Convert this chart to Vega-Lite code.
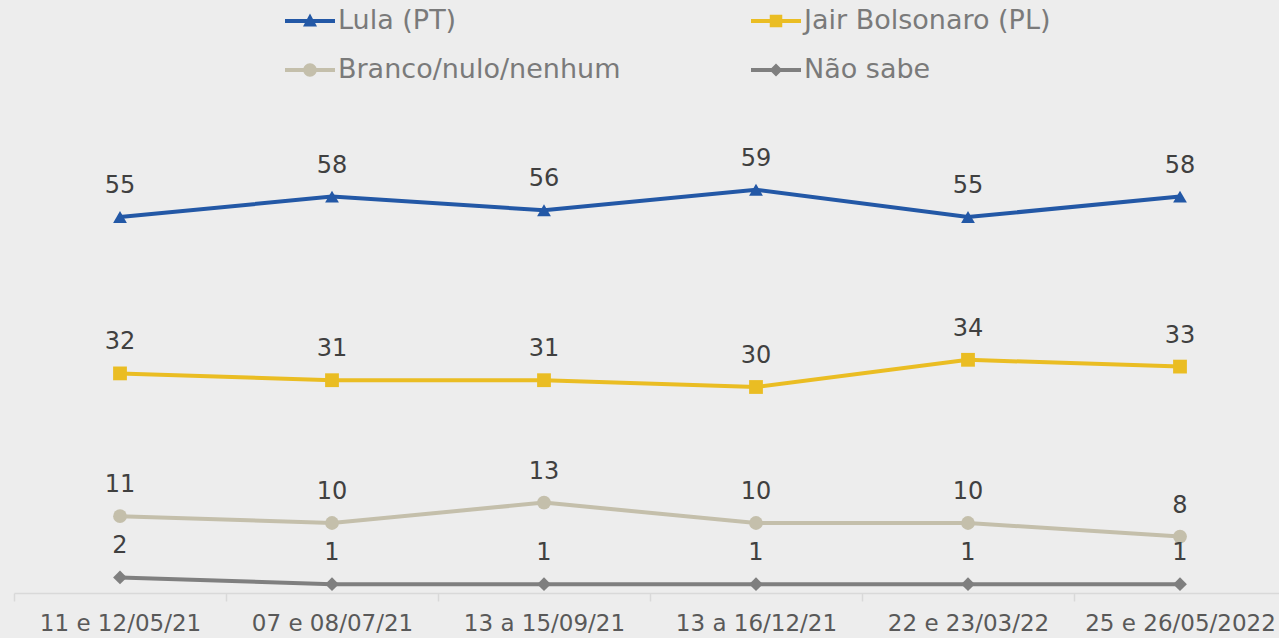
{
  "$schema": "https://vega.github.io/schema/vega-lite/v6.json",
  "width": 1265,
  "height": 408,
  "autosize": {"type": "none"},
  "padding": {"left": 14, "top": 183, "right": 0, "bottom": 47},
  "background": "#ededed",
  "config": {"view": {"stroke": null}, "font": "DejaVu Sans"},
  "data": {"values": [
    {"date": "11 e 12/05/21", "series": "Lula (PT)", "value": 55},
    {"date": "07 e 08/07/21", "series": "Lula (PT)", "value": 58},
    {"date": "13 a 15/09/21", "series": "Lula (PT)", "value": 56},
    {"date": "13 a 16/12/21", "series": "Lula (PT)", "value": 59},
    {"date": "22 e 23/03/22", "series": "Lula (PT)", "value": 55},
    {"date": "25 e 26/05/2022", "series": "Lula (PT)", "value": 58},
    {"date": "11 e 12/05/21", "series": "Jair Bolsonaro (PL)", "value": 32},
    {"date": "07 e 08/07/21", "series": "Jair Bolsonaro (PL)", "value": 31},
    {"date": "13 a 15/09/21", "series": "Jair Bolsonaro (PL)", "value": 31},
    {"date": "13 a 16/12/21", "series": "Jair Bolsonaro (PL)", "value": 30},
    {"date": "22 e 23/03/22", "series": "Jair Bolsonaro (PL)", "value": 34},
    {"date": "25 e 26/05/2022", "series": "Jair Bolsonaro (PL)", "value": 33},
    {"date": "11 e 12/05/21", "series": "Branco/nulo/nenhum", "value": 11},
    {"date": "07 e 08/07/21", "series": "Branco/nulo/nenhum", "value": 10},
    {"date": "13 a 15/09/21", "series": "Branco/nulo/nenhum", "value": 13},
    {"date": "13 a 16/12/21", "series": "Branco/nulo/nenhum", "value": 10},
    {"date": "22 e 23/03/22", "series": "Branco/nulo/nenhum", "value": 10},
    {"date": "25 e 26/05/2022", "series": "Branco/nulo/nenhum", "value": 8},
    {"date": "11 e 12/05/21", "series": "Não sabe", "value": 2},
    {"date": "07 e 08/07/21", "series": "Não sabe", "value": 1},
    {"date": "13 a 15/09/21", "series": "Não sabe", "value": 1},
    {"date": "13 a 16/12/21", "series": "Não sabe", "value": 1},
    {"date": "22 e 23/03/22", "series": "Não sabe", "value": 1},
    {"date": "25 e 26/05/2022", "series": "Não sabe", "value": 1}
  ]},
  "encoding": {
    "x": {
      "field": "date", "type": "nominal",
      "scale": {"type": "band", "domain": ["11 e 12/05/21", "07 e 08/07/21", "13 a 15/09/21", "13 a 16/12/21", "22 e 23/03/22", "25 e 26/05/2022"], "range": [0, 1272], "paddingInner": 0, "paddingOuter": 0},
      "axis": {"title": null, "offset": 2, "labelFontSize": 23, "labelColor": "#595959", "labelFont": "DejaVu Sans", "domainColor": "#d9d9d9", "domainWidth": 1.5, "tickColor": "#d9d9d9", "tickSize": 8, "tickWidth": 1.5, "tickBand": "extent", "labelPadding": 11, "labelAngle": 0, "grid": false, "labelLimit": 300}
    },
    "y": {"field": "value", "type": "quantitative", "scale": {"domain": [0, 60]}, "axis": null}
  },
  "layer": [
    {
      "transform": [{"filter": "datum.value < 0"}],
      "mark": {"type": "point", "filled": true, "opacity": 1, "size": 2500},
      "encoding": {
        "color": {"field": "series", "type": "nominal",
          "scale": {"domain": ["Lula (PT)", "Jair Bolsonaro (PL)", "Branco/nulo/nenhum", "Não sabe"], "range": ["#2358a6", "#eabd23", "#c4bfab", "#7f7f7f"]},
          "legend": {"disable": false, "title": null, "orient": "none", "direction": "horizontal", "legendX": 271, "legendY": -187, "columns": 2, "columnPadding": 130, "rowPadding": 11, "symbolSize": 2500, "symbolOpacity": 1, "symbolStrokeWidth": 0, "labelFontSize": 27, "labelColor": "#7a7a7a", "labelFont": "DejaVu Sans", "labelOffset": 3, "padding": 0, "labelLimit": 400}},
        "shape": {"field": "series", "type": "nominal",
          "scale": {"domain": ["Lula (PT)", "Jair Bolsonaro (PL)", "Branco/nulo/nenhum", "Não sabe"], "range": [
            "M-1,-0.08H1V0.08H-1Z M0,-0.3L0.28,0.22L-0.28,0.22Z",
            "M-1,-0.08H1V0.08H-1Z M-0.25,-0.25H0.25V0.25H-0.25Z",
            "M-1,-0.08H1V0.08H-1Z M0.27,0A0.27,0.27 0 1,1 -0.27,0A0.27,0.27 0 1,1 0.27,0Z",
            "M-1,-0.08H1V0.08H-1Z M0,-0.26L0.26,0L0,0.26L-0.26,0Z"
          ]},
          "legend": {"disable": false, "title": null, "orient": "none", "direction": "horizontal", "legendX": 271, "legendY": -187, "columns": 2, "columnPadding": 130, "rowPadding": 11, "symbolSize": 2500, "symbolOpacity": 1, "symbolStrokeWidth": 0, "labelFontSize": 27, "labelColor": "#7a7a7a", "labelFont": "DejaVu Sans", "labelOffset": 3, "padding": 0, "labelLimit": 400}}
      }
    },
    {
      "mark": {"type": "line", "strokeWidth": 4},
      "encoding": {
        "color": {"field": "series", "type": "nominal", "legend": null}
      }
    },
    {
      "mark": {"type": "point", "filled": true, "opacity": 1, "size": 190},
      "encoding": {
        "color": {"field": "series", "type": "nominal", "legend": null},
        "shape": {"condition": [
          {"test": "datum.series === 'Lula (PT)'", "value": "triangle-up"},
          {"test": "datum.series === 'Jair Bolsonaro (PL)'", "value": "square"},
          {"test": "datum.series === 'Branco/nulo/nenhum'", "value": "circle"}
        ], "value": "diamond"}
      }
    },
    {
      "mark": {"type": "text", "dy": -31, "fontSize": 24, "font": "DejaVu Sans", "baseline": "middle"},
      "encoding": {
        "text": {"field": "value", "type": "quantitative"},
        "color": {"value": "#404040"}
      }
    }
  ]
}
